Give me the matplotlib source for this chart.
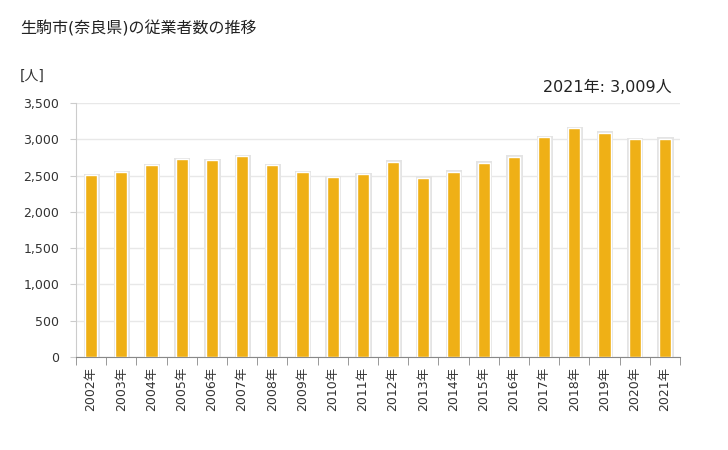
import matplotlib
matplotlib.use("Agg")
import matplotlib.pyplot as plt
import numpy as np

plt.rcParams['font.family'] = ['DejaVu Sans', 'Noto Sans CJK JP']

years = [str(y) + '年' for y in range(2002, 2022)]
workers = [2505, 2545, 2642, 2725, 2710, 2765, 2642, 2545, 2477, 2518,
           2690, 2473, 2555, 2677, 2759, 3031, 3153, 3090, 3000, 3009]
yticks = [0, 500, 1000, 1500, 2000, 2500, 3000, 3500]

bar_color = '#EFB016'
shadow_color = '#E4E4E4'

fig = plt.figure(figsize=(7.28, 4.5), dpi=100)
ax = fig.add_axes([76 / 728, 1 - 357 / 450, 604 / 728, 254 / 450])

x = np.arange(len(years))
# soft shadow behind each bar
ax.bar(x + 0.02, np.array(workers) + 20, 0.54, color=shadow_color, zorder=2)
ax.bar(x, workers, 0.4, color=bar_color, edgecolor='white', linewidth=1.0, zorder=3)

ax.set_xlim(-0.5, len(years) - 0.5)
ax.set_ylim(0, 3500)
ax.set_yticks(yticks)
ax.set_yticklabels(['{:,}'.format(v) for v in yticks], fontsize=9, color='#333333')
ax.set_xticks(x)
ax.set_xticklabels(years, rotation=90, fontsize=9, color='#333333')
ax.tick_params(axis='x', length=0, pad=7)
ax.set_xticks(np.arange(-0.5, len(years)), minor=True)
ax.tick_params(axis='x', which='minor', length=6, color='#888888')
ax.tick_params(axis='y', length=4, color='#cccccc', pad=8)

ax.grid(axis='y', color='#e8e8e8', linewidth=1, zorder=0)
ax.set_axisbelow(True)
for s in ['top', 'right']:
    ax.spines[s].set_visible(False)
ax.spines['left'].set_color('#cccccc')
ax.spines['bottom'].set_color('#888888')

fig.text(20 / 728, 1 - 28 / 450, '生駒市(奈良県)の従業者数の推移', fontsize=11.5,
         va='center', ha='left', color='#222222')
fig.text(20 / 728, 1 - 76 / 450, '[人]', fontsize=10, va='center', ha='left', color='#333333')
fig.text(672 / 728, 1 - 87 / 450, '2021年: {:,}人'.format(workers[-1]), fontsize=11.5,
         va='center', ha='right', color='#222222')

fig.savefig('out.png', dpi=100)
